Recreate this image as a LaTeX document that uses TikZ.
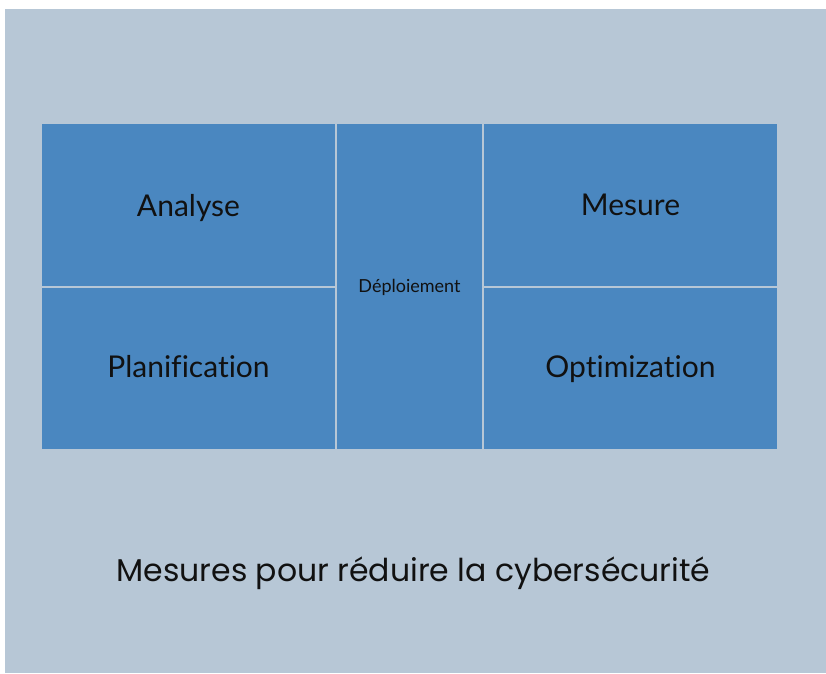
\documentclass[tikz,border=0pt]{standalone}
\usepackage{fontspec}
\setmainfont{Lato}[Ligatures={NoCommon}]
\newfontfamily\titlefont{Poppins}[Ligatures={NoCommon}]
\definecolor{bgcol}{HTML}{B7C7D6}
\definecolor{boxcol}{HTML}{4A87C0}
\definecolor{txtcol}{HTML}{111111}
\begin{document}
\begin{tikzpicture}[x=1pt,y=-1pt,
  cell/.style={fill=boxcol, draw=none},
  lbl/.style={text=txtcol, inner sep=0pt, anchor=base, font=\fontsize{30}{34}\selectfont},
  smalllbl/.style={text=txtcol, inner sep=0pt, anchor=base, font=\fontsize{18}{21}\selectfont},
  titlelbl/.style={text=txtcol, inner sep=0pt, anchor=base, font=\titlefont\fontsize{31.5}{36}\selectfont}]
\useasboundingbox (0,0) rectangle (826,673);
\fill[white] (0,0) rectangle (826,673);
\fill[bgcol] (5,9) rectangle (826,673);
\fill[cell] (42,124) rectangle (335,285.5);
\fill[cell] (42,287.5) rectangle (335,449);
\fill[cell] (337,124) rectangle (482,449);
\fill[cell] (484,124) rectangle (777,285.5);
\fill[cell] (484,287.5) rectangle (777,449);
\node[lbl] (analyse) at (188.5,216) {Analyse};
\node[lbl] (plan) at (188.5,377) {Planification};
\node[smalllbl] (deploy) at (409.5,292) {Déploiement};
\node[lbl] (mesure) at (630.5,215) {Mesure};
\node[lbl] (optim) at (630.5,377) {Optimization};
\node[titlelbl] (title) at (413.5,581) {Mesures pour réduire la cybersécurité};
\end{tikzpicture}
\end{document}
